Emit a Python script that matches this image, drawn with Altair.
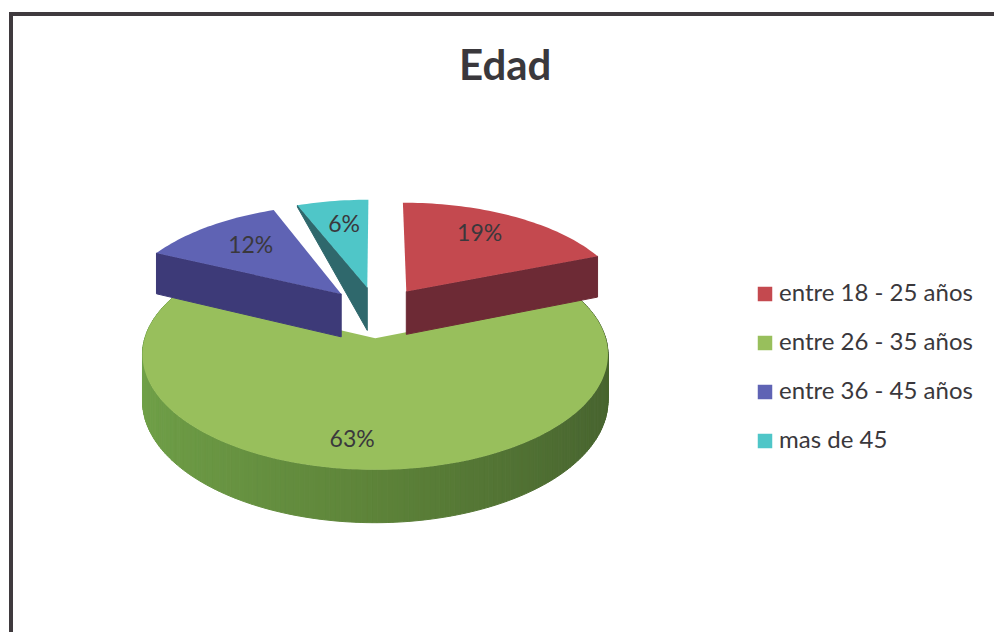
import math
import altair as alt

# Age distribution shown by the chart
categories = ["entre 18 - 25 años", "entre 26 - 35 años", "entre 36 - 45 años", "mas de 45"]
percent = [19, 63, 12, 6]
top_colors = ["#c4494f", "#98bf5c", "#5f63b4", "#4fc6c8"]
wall_colors = ["#6d2a35", "#5d8339", "#3d3a78", "#2f686c"]
label_spots = [(0.46, 0.72), (0.52, 0.80), (0.53, 0.68), (0.54, 0.70)]

FONT = "Lato"
INK = "#3a383c"

# Tilted-disc geometry, in page pixels
CX, CY = 377, 312
RX, RY = 223, 106
PERSPECTIVE = 0.135
EXPLODE = 0.24
DEPTH = 44


def project(u, v, drop=0.0):
    w = 1 + PERSPECTIVE * v
    return [round(CX + RX * u / w, 2), round(CY - RY * v / w + drop / w, 2)]


def polar(t, r=1.0):
    return r * math.sin(t), r * math.cos(t)


def feature(coords, kind="Polygon", **props):
    ring = [coords] if kind == "Polygon" else coords
    return {"type": "Feature", "geometry": {"type": kind, "coordinates": ring}, "properties": props}


def lerp_hex(a, b, f):
    ca = [int(a[i:i + 2], 16) for i in (1, 3, 5)]
    cb = [int(b[i:i + 2], 16) for i in (1, 3, 5)]
    return "#" + "".join(f"{round(x + (y - x) * f):02x}" for x, y in zip(ca, cb))


# Slice spans, clockwise from twelve o'clock
spans = []
acc = 0.0
total = sum(percent)
for p in percent:
    start = acc / total * 2 * math.pi
    acc += p
    spans.append((start, acc / total * 2 * math.pi))

tops, offsets, labels = [], [], []
for name, value, (a, b), (frac, r) in zip(categories, percent, spans, label_spots):
    ox, oy = polar((a + b) / 2, EXPLODE)
    offsets.append((ox, oy))
    steps = max(6, int((b - a) * 40))
    ring = [project(ox, oy)]
    for i in range(steps + 1):
        u, v = polar(a + (b - a) * i / steps)
        ring.append(project(ox + u, oy + v))
    ring.append(ring[0])
    tops.append(feature(ring, name=name))
    lu, lv = polar(a + (b - a) * frac, r)
    lx, ly = project(ox + lu, oy + lv)
    labels.append({"text": f"{value}%", "lon": lx, "lat": ly})


def cut_wall(index, t, rim_drop):
    # Flat face exposed by pulling a slice out of the disc
    ox, oy = offsets[index]
    u, v = polar(t)
    rim = project(ox + u, oy + v)
    rim_low = project(ox + u, oy + v, rim_drop)
    tip = project(ox, oy)
    tip_low = project(ox, oy, DEPTH)
    return feature([tip, rim, rim_low, tip_low, tip], shade=wall_colors[index])


# Rounded outer wall of the large slice, shaded in narrow vertical strips
a, b = spans[1]
ox, oy = offsets[1]
STRIPS = 200
rim_walls = []
for i in range(STRIPS):
    t0 = a + (b - a) * i / STRIPS
    t1 = a + (b - a) * (i + 1) / STRIPS
    u0, v0 = polar(t0)
    u1, v1 = polar(t1)
    shade_at = (1 - (u0 + u1) / 2) / 2
    if shade_at > 0.5:
        shade = lerp_hex(wall_colors[1], "#70a048", (shade_at - 0.5) * 2)
    else:
        shade = lerp_hex("#47632f", wall_colors[1], shade_at * 2)
    rim_walls.append(feature(
        [project(ox + u0, oy + v0), project(ox + u1, oy + v1),
         project(ox + u1, oy + v1, DEPTH), project(ox + u0, oy + v0, DEPTH),
         project(ox + u0, oy + v0)],
        shade=shade,
    ))

cut_walls = [
    cut_wall(3, spans[3][0], 2),
    cut_wall(0, spans[0][1], DEPTH),
    cut_wall(2, spans[2][0], DEPTH),
]

frame = [feature([[11, 632], [11, 14], [994, 14]], kind="LineString")]

PIXELS = dict(type="identity", scale=1, translate=[0, 0])
color_scale = alt.Scale(domain=categories, range=top_colors)
legend = alt.Legend(
    title=None, orient="none", legendX=753, legendY=282,
    symbolType="square", symbolSize=210, symbolStrokeWidth=0,
    labelFont=FONT, labelFontSize=24, labelColor=INK, labelOffset=2,
    rowPadding=25, labelLimit=260,
)


def shaded(features):
    return alt.Chart(alt.Data(values=features)).mark_geoshape(strokeWidth=1).encode(
        fill=alt.Fill("properties.shade:N", scale=None),
        stroke=alt.Stroke("properties.shade:N", scale=None),
    ).project(**PIXELS)


def faces(features):
    return alt.Chart(alt.Data(values=features)).mark_geoshape(strokeWidth=0).encode(
        color=alt.Color("properties.name:N", scale=color_scale, sort=categories, legend=legend),
    ).project(**PIXELS)


border = alt.Chart(alt.Data(values=frame)).mark_geoshape(
    filled=False, stroke="#3f3a3e", strokeWidth=4
).project(**PIXELS)

values_text = alt.Chart(alt.Data(values=labels)).mark_text(
    font=FONT, fontSize=23, color=INK
).encode(
    longitude="lon:Q", latitude="lat:Q", text="text:N"
).project(**PIXELS)

chart = alt.layer(
    border,
    shaded(rim_walls),
    faces([tops[1]]),
    shaded(cut_walls),
    faces([tops[3], tops[0], tops[2]]),
    values_text,
).properties(
    width=994,
    height=632,
    padding=0,
    autosize=alt.AutoSizeParams(type="none"),
    background="white",
    title=alt.TitleParams(
        "Edad", font=FONT, fontSize=42, fontWeight="bold", color=INK,
        anchor="start", dx=459, dy=89, offset=0,
    ),
).configure_view(stroke=None)

chart.save("out.html", embed_options={"renderer": "svg", "actions": False})
